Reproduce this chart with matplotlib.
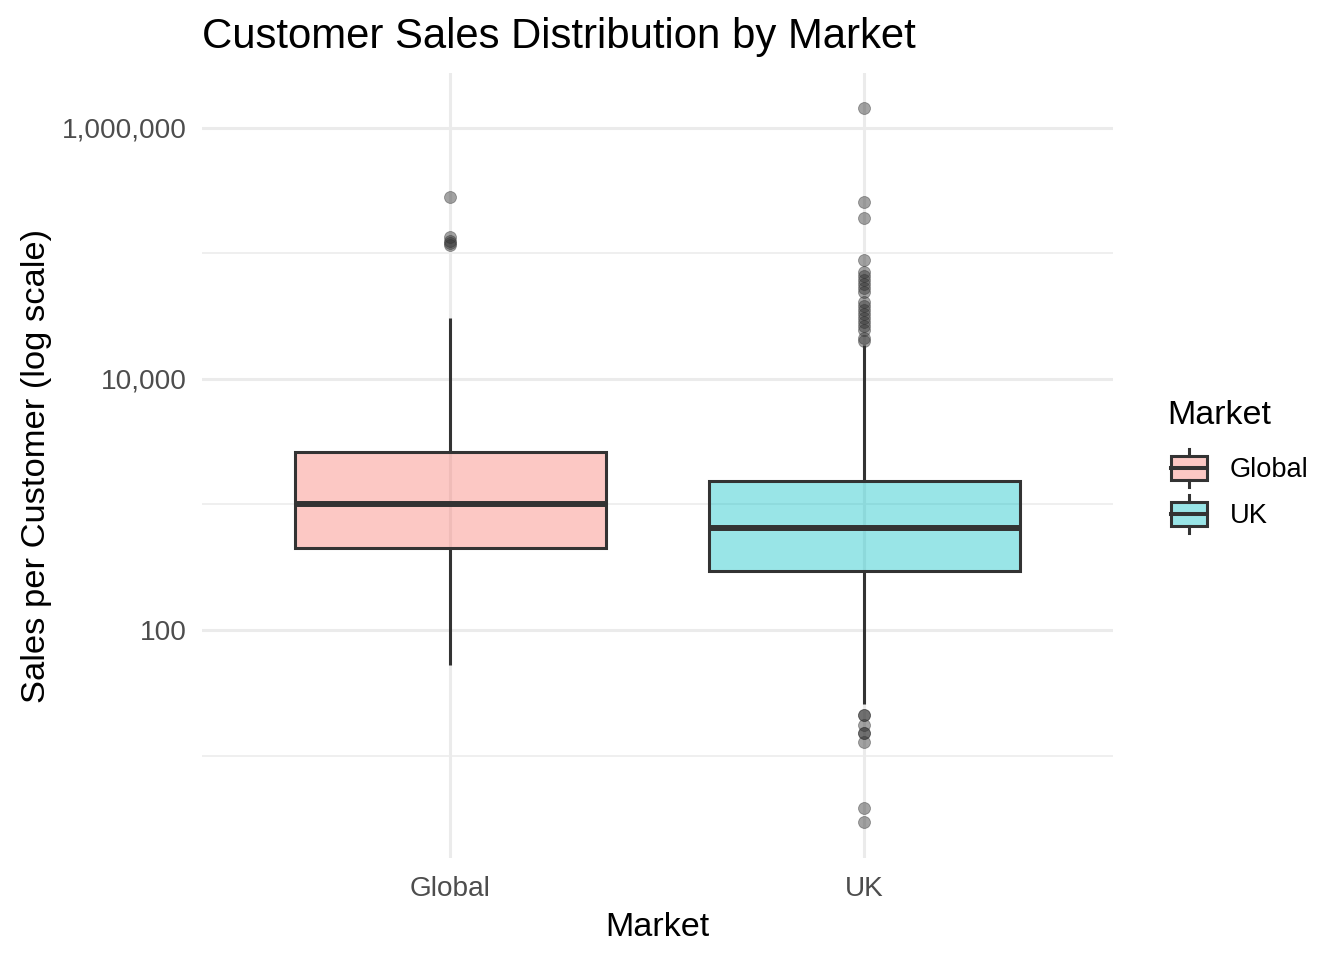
import numpy as np
import matplotlib
matplotlib.use('Agg')
import matplotlib.pyplot as plt
from matplotlib.legend_handler import HandlerBase
from matplotlib.patches import Rectangle, Patch
from matplotlib.lines import Line2D
from matplotlib.ticker import FixedLocator, FuncFormatter

plt.rcParams['font.family'] = ['Liberation Sans', 'DejaVu Sans']

# box statistics (sales per customer)
markets = ['Global', 'UK']
q1 = [450, 295]
medians = [1010, 650]
q3 = [2620, 1540]
whisker_lo = [52.6, 25.7]
whisker_hi = [30600, 18700]
outliers_global = [282000, 135000, 126000, 122000, 117000]
outliers_uk = [1440000, 257000, 192000, 88800, 71300, 66300, 61600, 57200,
               53100, 49300, 41100, 38200, 35500, 33000, 30600, 28500,
               26400, 24600, 21200, 20100,
               21.0, 21.0, 17.5, 15.1, 15.1, 12.8, 3.82, 2.95]
fills = ['#F8766D', '#00BFC4']
box_alpha = 0.4
edge = '#333333'

stats = []
for i, m in enumerate(markets):
    stats.append(dict(label=m, q1=q1[i], med=medians[i], q3=q3[i],
                      whislo=whisker_lo[i], whishi=whisker_hi[i],
                      fliers=[outliers_global, outliers_uk][i]))

fig = plt.figure(figsize=(13.44, 9.6), dpi=100)
ax = fig.add_axes([0.1503, 0.106, 0.828 - 0.1503, 0.924 - 0.106])

bp = ax.bxp(stats, positions=[1, 2], widths=0.75, patch_artist=True,
            showcaps=False, manage_ticks=False,
            boxprops=dict(edgecolor=edge, linewidth=2.2),
            medianprops=dict(color=edge, linewidth=4.3, solid_capstyle='butt'),
            whiskerprops=dict(color=edge, linewidth=2.2, solid_capstyle='butt'),
            flierprops=dict(marker='o', markersize=8.6, markerfacecolor='#333333',
                            markeredgecolor='#333333', markeredgewidth=0.6, alpha=0.45,
                            linestyle='none'))
for patch, c in zip(bp['boxes'], fills):
    patch.set_facecolor(matplotlib.colors.to_rgba(c, box_alpha))
for z in bp['whiskers'] + bp['medians']:
    z.set_zorder(3)
for b in bp['boxes']:
    b.set_zorder(2)
for f in bp['fliers']:
    f.set_zorder(4)

ax.set_yscale('log')
ax.set_ylim(1.52, 2.74e6)
ax.set_xlim(0.4, 2.6)
ax.yaxis.set_major_locator(FixedLocator([100, 10000, 1000000]))
ax.yaxis.set_minor_locator(FixedLocator([10, 1000, 100000]))
ax.yaxis.set_major_formatter(FuncFormatter(lambda v, p: f'{int(round(v)):,}'))
ax.yaxis.set_minor_formatter(FuncFormatter(lambda v, p: ''))
ax.set_xticks([1, 2])
ax.set_xticklabels(markets)

ax.grid(True, which='major', color='#EBEBEB', linewidth=2.2, zorder=0)
ax.grid(True, which='minor', axis='y', color='#EBEBEB', linewidth=1.1, zorder=0)
ax.set_axisbelow(True)
for s in ax.spines.values():
    s.set_visible(False)
ax.tick_params(axis='both', which='both', length=0, labelsize=20.2,
               labelcolor='#4D4D4D')
ax.tick_params(axis='x', pad=13)
ax.tick_params(axis='y', pad=11)

ax.set_xlabel('Market', fontsize=24.6, labelpad=7)
ax.set_ylabel('Sales per Customer (log scale)', fontsize=24.8, labelpad=7)
ax.set_title('Customer Sales Distribution by Market', fontsize=30.2, loc='left',
             pad=18)


class BoxHandler(HandlerBase):
    def create_artists(self, legend, orig_handle, xdescent, ydescent, width,
                       height, fontsize, trans):
        fc = orig_handle.get_facecolor()
        x0 = -xdescent
        y0 = -ydescent
        bh = height * 0.63
        by = y0 + (height - bh) / 2
        ext = height * 0.18
        rect = Rectangle((x0, by), width, bh, facecolor=fc, edgecolor=edge,
                         linewidth=2.2, transform=trans)
        med = Line2D([x0, x0 + width], [by + bh / 2] * 2, color=edge,
                     linewidth=2.9, transform=trans)
        w1 = Line2D([x0 + width / 2] * 2, [by + bh, by + bh + ext],
                    color=edge, linewidth=2.2, transform=trans)
        w2 = Line2D([x0 + width / 2] * 2, [by, by - ext],
                    color=edge, linewidth=2.2, transform=trans)
        return [w1, w2, rect, med]


handles = [Patch(facecolor=matplotlib.colors.to_rgba(c, box_alpha), label=m)
           for m, c in zip(markets, fills)]
fig.text(1167 / 1344, 1 - 424 / 960, 'Market', fontsize=24.5, ha='left',
         va='baseline')
leg = fig.legend(handles=handles, loc='upper left',
                 bbox_to_anchor=(1171 / 1344, 1 - 449 / 960), frameon=False,
                 fontsize=19.6, handler_map={Patch: BoxHandler()},
                 handlelength=1.32, handleheight=1.77, handletextpad=0.85,
                 labelspacing=0.3, borderaxespad=0, borderpad=0)

fig.savefig('out.png', dpi=100)
